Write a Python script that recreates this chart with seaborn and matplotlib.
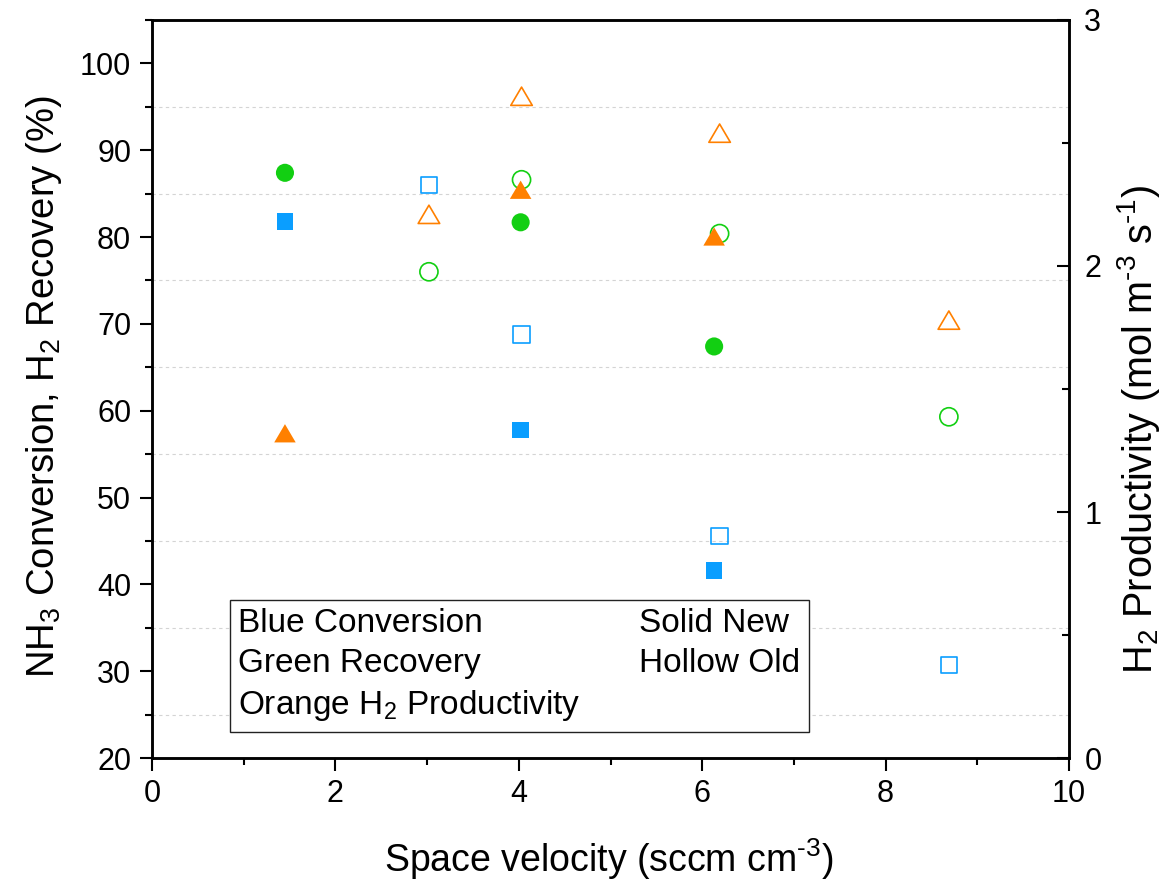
import matplotlib
matplotlib.use("Agg")
import matplotlib.pyplot as plt
from matplotlib.lines import Line2D
from matplotlib.markers import MarkerStyle
from matplotlib.path import Path
from matplotlib.ticker import MultipleLocator
import numpy as np
import pandas as pd
import seaborn as sns

# Space velocity (sccm cm^-3)
sv_new = [1.45, 4.02, 6.13]
sv_old = [3.02, 4.03, 6.19, 8.69]

# NH3 conversion (%)
conversion_new = [81.8, 57.8, 41.6]
conversion_old = [86.0, 68.8, 45.6, 30.7]

# H2 recovery (%)
recovery_new = [87.4, 81.7, 67.4]
recovery_old = [76.0, 86.6, 80.4, 59.3]

# H2 productivity (mol m^-3 s^-1)
productivity_new = [1.32, 2.31, 2.12]
productivity_old = [2.21, 2.69, 2.54, 1.78]

legend_labels = ["Blue Conversion", "Green Recovery",
                 r"Orange H$_\mathregular{2}$ Productivity",
                 "Solid New", "Hollow Old"]

BLUE = "#0A9EFF"
GREEN = "#12CF12"
ORANGE = "#FF8000"

sns.set_theme(style="ticks")
plt.rcParams.update({
    "font.family": ["Liberation Sans", "DejaVu Sans"],
    "mathtext.fontset": "custom",
    "mathtext.rm": "Liberation Sans",
    "mathtext.it": "Liberation Sans:italic",
    "mathtext.bf": "Liberation Sans:bold",
    "axes.edgecolor": "black",
    "axes.linewidth": 1.8,
    "axes.labelcolor": "black",
    "text.color": "black",
    "xtick.color": "black",
    "ytick.color": "black",
})

# wide triangle marker
tri = MarkerStyle(Path([(0, 0.85), (-1, -0.85), (1, -0.85), (0, 0.85)],
                       [Path.MOVETO, Path.LINETO, Path.LINETO, Path.CLOSEPOLY]))

fig = plt.figure(figsize=(11.76, 8.8), dpi=100)
ax = fig.add_axes([152 / 1176, 1 - 758 / 880, 917 / 1176, 738 / 880])
ax2 = ax.twinx()

conv_new = pd.DataFrame({"sv": sv_new, "val": conversion_new})
conv_old = pd.DataFrame({"sv": sv_old, "val": conversion_old})
rec_new = pd.DataFrame({"sv": sv_new, "val": recovery_new})
rec_old = pd.DataFrame({"sv": sv_old, "val": recovery_old})
prod_new = pd.DataFrame({"sv": sv_new, "val": productivity_new})
prod_old = pd.DataFrame({"sv": sv_old, "val": productivity_old})

sq, ci, tr = 140, 170, 240
sns.scatterplot(data=conv_new, x="sv", y="val", ax=ax, marker="s", s=sq,
                color=BLUE, edgecolor="none", zorder=3)
sns.scatterplot(data=conv_old, x="sv", y="val", ax=ax, marker="s", s=sq,
                color=BLUE, facecolor="none", edgecolor=BLUE, linewidth=1.2, zorder=3)
sns.scatterplot(data=rec_new, x="sv", y="val", ax=ax, marker="o", s=ci,
                color=GREEN, edgecolor="none", zorder=3)
sns.scatterplot(data=rec_old, x="sv", y="val", ax=ax, marker="o", s=ci,
                color=GREEN, facecolor="none", edgecolor=GREEN, linewidth=1.2, zorder=3)
sns.scatterplot(data=prod_new, x="sv", y="val", ax=ax2, marker=tri, s=tr,
                color=ORANGE, edgecolor="none", zorder=3)
sns.scatterplot(data=prod_old, x="sv", y="val", ax=ax2, marker=tri, s=tr,
                color=ORANGE, facecolor="none", edgecolor=ORANGE, linewidth=1.2, zorder=3)

ax.set_xlim(0, 10)
ax.set_ylim(20, 105)
ax2.set_ylim(0, 3)

ax.xaxis.set_major_locator(MultipleLocator(2))
ax.xaxis.set_minor_locator(MultipleLocator(1))
ax.yaxis.set_minor_locator(MultipleLocator(5))
ax.set_yticks(np.arange(20, 101, 10))
ax2.yaxis.set_major_locator(MultipleLocator(1))
ax2.yaxis.set_minor_locator(MultipleLocator(0.5))

ax.tick_params(axis="both", which="major", direction="out", length=9, width=1.5,
               labelsize=22, pad=6)
ax.tick_params(axis="both", which="minor", direction="out", length=5, width=1.5)
ax.tick_params(top=False, which="both")
ax.tick_params(right=False, which="both")
ax2.tick_params(axis="y", which="major", direction="in", length=9, width=1.5,
                labelsize=22, pad=11)
ax2.tick_params(axis="y", which="minor", direction="in", length=5, width=1.5)

ax.grid(False)
ax.yaxis.grid(True, which="minor", color="#D4D4D4", linestyle=(0, (3, 3)), linewidth=0.8)
ax.set_axisbelow(True)

for a in (ax, ax2):
    for sp in a.spines.values():
        sp.set_linewidth(1.8)
        sp.set_color("black")
        sp.set_visible(True)

ax.set_xlabel(r"Space velocity (sccm cm$^\text{-3}$)", fontsize=27)
ax.set_ylabel(r"NH$_\mathregular{3}$ Conversion, H$_\mathregular{2}$ Recovery (%)", fontsize=27.5)
ax2.set_ylabel(r"H$_\mathregular{2}$ Productivity (mol m$^\text{-3}$ s$^\text{-1}$)",
               fontsize=28.5)
ax.xaxis.set_label_coords(0.498, -0.106)
ax.yaxis.set_label_coords(-0.096, 0.503)
ax2.yaxis.set_label_coords(1.05, 0.445)

handles = [Line2D([], [], linestyle="none") for _ in legend_labels]
leg = ax.legend(handles, legend_labels, ncol=2, loc="upper left",
                bbox_to_anchor=(0.085, 0.214), fontsize=24, frameon=True,
                fancybox=False, edgecolor="#222222", framealpha=1,
                handlelength=0, handletextpad=0, columnspacing=1.75,
                labelspacing=0.27, borderpad=0.25, borderaxespad=0)
leg.get_frame().set_linewidth(1.0)
leg.set_zorder(5)

fig.savefig("out.png", dpi=100, facecolor="white")
